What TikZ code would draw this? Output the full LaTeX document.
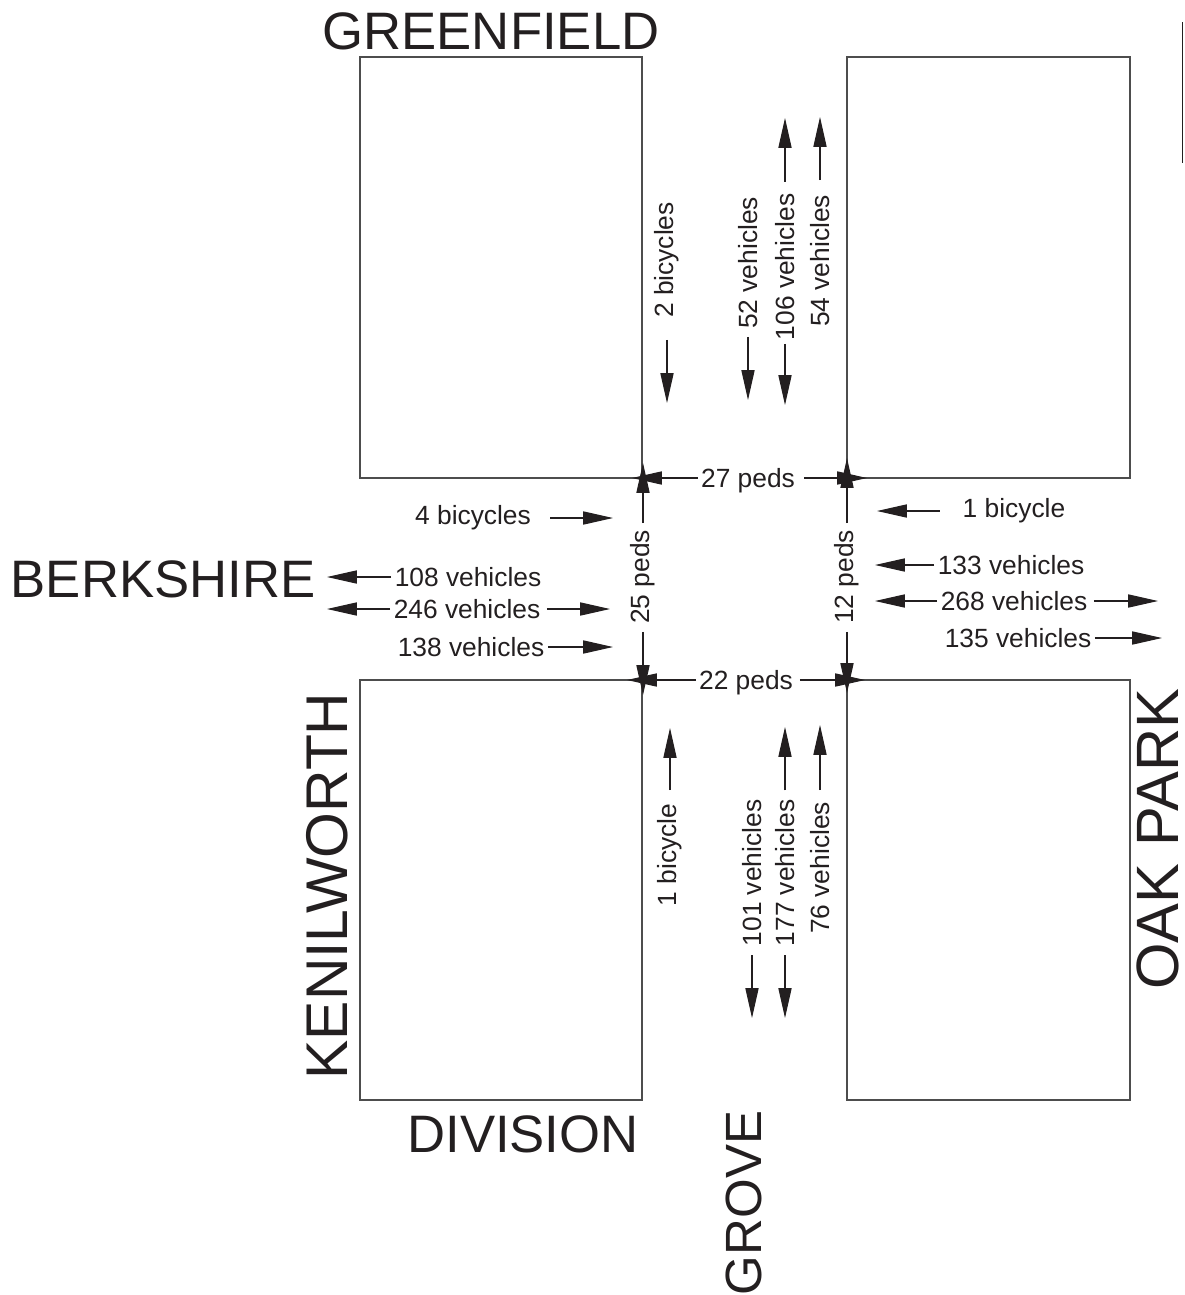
\documentclass[tikz,border=0pt]{standalone}
\usepackage{fontspec}
\setmainfont{Liberation Sans}
\usetikzlibrary{arrows.meta}
\definecolor{ink}{HTML}{231F20}
\definecolor{rule}{HTML}{4D4D4D}
\tikzset{
  blk/.style={draw=rule,line width=0.7pt},
  cnt/.style={font=\fontsize{15}{18}\selectfont,text=ink,inner sep=2pt,outer sep=0pt},
  vcnt/.style={cnt,rotate=90},
  road/.style={font=\fontsize{#1}{#1}\selectfont,text=ink,inner sep=0pt},
  arr/.style={-{Triangle[length=17pt,width=7.5pt]},line width=0.6pt,draw=ink},
}

\begin{document}
\begin{tikzpicture}[x=0.02cm,y=-0.02cm]
  \useasboundingbox (0,0) rectangle (1184,1295);

  % blocks
  \draw[blk] (360,57)  rectangle (642,478);
  \draw[blk] (847,57)  rectangle (1130,478);
  \draw[blk] (360,680) rectangle (642,1100);
  \draw[blk] (847,680) rectangle (1130,1100);
  \draw[line width=1pt,draw=ink] (1182.5,22) -- (1182.5,163);

  % street names
  \node[road=30pt]            (greenfield) at (491,31)   {GREENFIELD};
  \node[road=30pt]            (berkshire)  at (163,579)  {BERKSHIRE};
  \node[road=33.5pt,rotate=90] (kenilworth) at (327,886)  {KENILWORTH};
  \node[road=30pt]            (division)   at (523,1134) {DIVISION};
  \node[road=29pt,rotate=90]  (grove)      at (744,1203) {GROVE};
  \node[road=34pt,rotate=90]  (oakpark)    at (1158,839)  {OAK PARK};

  % north leg
  \node[vcnt] (b2)   at (667,260) {2 bicycles};
  \node[vcnt] (v52)  at (748,263) {52 vehicles};
  \node[vcnt] (v106) at (785,267) {106 vehicles};
  \node[vcnt] (v54)  at (820,261) {54 vehicles};
  % south leg
  \node[vcnt] (b1s)  at (670,855) {1 bicycle};
  \node[vcnt] (v101) at (752,873) {101 vehicles};
  \node[vcnt] (v177) at (785,873) {177 vehicles};
  \node[vcnt] (v76)  at (820,868) {76 vehicles};
  % west leg
  \node[cnt] (b4)   at (473,518) {4 bicycles};
  \node[cnt] (v108) at (468,577) {108 vehicles};
  \node[cnt] (v246) at (467,609) {246 vehicles};
  \node[cnt] (v138) at (471,647) {138 vehicles};
  % east leg
  \node[cnt] (b1e)  at (1014,511) {1 bicycle};
  \node[cnt] (v133) at (1011,565) {133 vehicles};
  \node[cnt] (v268) at (1014,601) {268 vehicles};
  \node[cnt] (v135) at (1018,638) {135 vehicles};
  % crosswalks
  \node[cnt,text depth=0pt] (p27) at (748,478) {27 peds};
  \node[vcnt] (p25) at (643,577) {25 peds};
  \node[vcnt] (p12) at (847,577) {12 peds};
  \node[cnt,text depth=0pt] (p22) at (746,680) {22 peds};

  \foreach \n/\x/\y in {b2d/667/403, v52d/748/400, v106d/785/405, v106u/785/118,
                        v54u/820/117, b1su/670/728, v101d/752/1018, v177u/785/727,
                        v177d/785/1018, v76u/820/725, b4r/613/518, v108l/327/577,
                        v246l/327/609, v246r/610/609, v138r/613/647, b1el/877/511,
                        v133l/875/565, v268l/875/601, v268r/1158/601, v135r/1162/638,
                        p27l/632/478, p27r/867/478, p25t/643/463, p25b/643/695,
                        p12t/847/458, p12b/847/693, p22l/627/680, p22r/865/680}
    \coordinate (\n) at (\x,\y);

  \foreach \s/\t/\g in {b2/b2d/10.6, v52/v52d/2.5, v106/v106d/0, v106/v106u/4.7,
                        v54/v54u/6.5, b1s/b1su/5.8, v101/v101d/3, v177/v177u/3.4,
                        v177/v177d/3, v76/v76u/4.8, b4/b4r/8.9, v108/v108l/0,
                        v246/v246l/0, v246/v246r/1.8, v138/v138r/0, b1e/b1el/11,
                        v133/v133l/0, v268/v268l/0, v268/v268r/1.8, v135/v135r/0,
                        p27/p27l/0, p27/p27r/3.2, p25/p25t/2, p25/p25b/2.6,
                        p12/p12t/2, p12/p12b/2.6, p22/p22l/0, p22/p22r/2}
    \draw[arr,shorten <=\g pt] (\s) -- (\t);
\end{tikzpicture}
\end{document}
